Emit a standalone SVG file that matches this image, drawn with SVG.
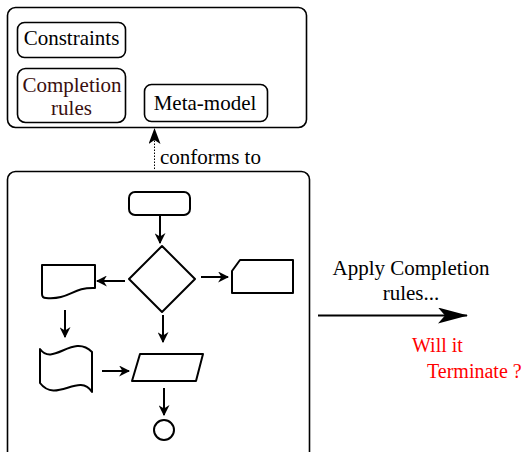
<svg xmlns="http://www.w3.org/2000/svg" width="528" height="452" viewBox="0 0 528 452">
  <defs>
    <style>
      .frame { fill: none; stroke: #000; stroke-width: 1.6; }
      .shape { fill: #fff; stroke: #000; stroke-width: 2; stroke-linejoin: round; }
      .flow { fill: none; stroke: #000; stroke-width: 2; }
      .lbl { font-family: "Liberation Serif", "Times New Roman", serif; font-size: 21px; fill: #000; }
      .red { fill: #ff0000; font-size: 20px; }
      .brown { fill: #3a1010; }
    </style>
    <marker id="tip" viewBox="0 0 10 10" refX="9" refY="5" markerWidth="11" markerHeight="11" markerUnits="userSpaceOnUse" orient="auto">
      <path d="M0,0 L10,5 L0,10 L3,5 Z" fill="#000"/>
    </marker>
    <marker id="tipDep" viewBox="0 0 16 12" refX="15" refY="6" markerWidth="16" markerHeight="12" markerUnits="userSpaceOnUse" orient="auto">
      <path d="M0,0 L16,6 L0,12 L4,6 Z" fill="#000"/>
    </marker>
    <marker id="tipBig" viewBox="0 0 30 16" refX="29" refY="8" markerWidth="30" markerHeight="16" markerUnits="userSpaceOnUse" orient="auto">
      <path d="M0,0 L30,8 L0,16 L7,8 Z" fill="#000"/>
    </marker>
  </defs>

  <!-- meta-model package -->
  <g id="metamodel-package">
    <rect class="frame" x="7.5" y="7.5" width="299" height="120" rx="8"/>
  </g>
  <g id="constraints">
    <rect class="frame" x="17.5" y="22.5" width="108" height="35" rx="7"/>
    <text class="lbl" x="71.5" y="45" text-anchor="middle">Constraints</text>
  </g>
  <g id="completion-rules">
    <rect class="frame" x="17.5" y="68.5" width="108" height="54" rx="8"/>
    <text class="lbl brown" x="72" y="92" text-anchor="middle">Completion</text>
    <text class="lbl brown" x="71.5" y="115" text-anchor="middle">rules</text>
  </g>
  <g id="meta-model">
    <rect class="frame" x="144.5" y="84.5" width="123" height="37" rx="7"/>
    <text class="lbl" x="205" y="110" text-anchor="middle">Meta-model</text>
  </g>

  <!-- model: a flowchart -->
  <g id="model">
    <rect class="frame" x="7.5" y="171.5" width="302" height="300" rx="8"/>
  </g>
  <g id="start">
    <rect class="shape" x="129" y="192" width="61" height="23" rx="6"/>
  </g>
  <g id="decision">
    <path class="shape" d="M162,246 L195,279 L162,312 L129,279 Z"/>
  </g>
  <g id="document">
    <path class="shape" d="M42,265 H95 V288 C72,287 70,300 46,298 Q42,298 42,294 Z"/>
  </g>
  <g id="card">
    <path class="shape" d="M240,260 H293 V293 H232 V271 Z"/>
  </g>
  <g id="tape">
    <path class="shape" d="M40,349 C53,367 73,333 92,352 V392 C79,372 56,404 40,383 Z"/>
  </g>
  <g id="data">
    <path class="shape" d="M140,354 H203 L196,381 H132 Z"/>
  </g>
  <g id="end">
    <circle class="shape" cx="164" cy="430" r="10"/>
  </g>

  <!-- connectors -->
  <g id="connectors">
    <line class="flow" x1="160" y1="216" x2="160" y2="243" marker-end="url(#tip)"/>
    <line class="flow" x1="125" y1="281" x2="97" y2="281" marker-end="url(#tip)"/>
    <line class="flow" x1="201" y1="277" x2="228" y2="277" marker-end="url(#tip)"/>
    <line class="flow" x1="163" y1="315" x2="163" y2="342" marker-end="url(#tip)"/>
    <line class="flow" x1="65" y1="310" x2="65" y2="337" marker-end="url(#tip)"/>
    <line class="flow" x1="102" y1="371" x2="129" y2="371" marker-end="url(#tip)"/>
    <line class="flow" x1="164" y1="388" x2="164" y2="415" marker-end="url(#tip)"/>
    <line x1="154.5" y1="169" x2="154.5" y2="129" stroke="#000" stroke-width="1" stroke-dasharray="1.5,1.5" marker-end="url(#tipDep)"/>
    <line x1="318" y1="315.5" x2="467" y2="315.5" stroke="#000" stroke-width="2" marker-end="url(#tipBig)"/>
  </g>

  <!-- labels -->
  <text class="lbl" x="160" y="164">conforms to</text>
  <text class="lbl" x="411" y="275" text-anchor="middle">Apply Completion</text>
  <text class="lbl" x="411" y="300" text-anchor="middle">rules...</text>
  <text class="lbl red" x="412" y="352">Will it</text>
  <text class="lbl red" x="427" y="378">Terminate ?</text>
</svg>
